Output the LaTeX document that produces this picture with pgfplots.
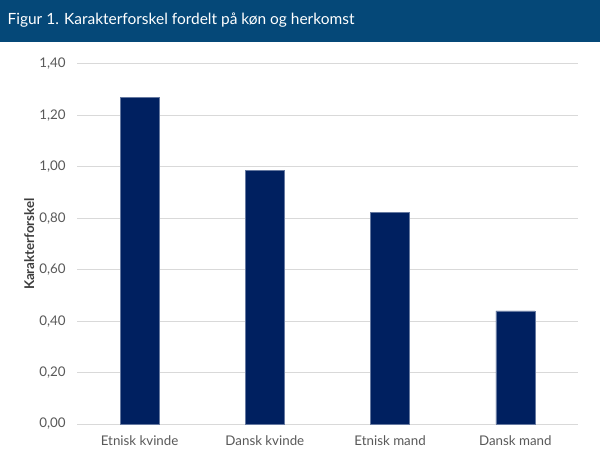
\documentclass[border=0pt]{standalone}
\usepackage{pgfplots}
\pgfplotsset{compat=1.18}
\usepackage{fontspec}
\setmainfont{Lato}
\definecolor{titlebar}{HTML}{054878}
\definecolor{barblue}{HTML}{002060}
\definecolor{txt}{HTML}{595959}
\definecolor{gridc}{HTML}{D9D9D9}
\begin{document}
\begin{tikzpicture}
\path[use as bounding box] (0,0) rectangle (450pt,345.75pt);
\fill[white] (0,0) rectangle (450pt,345.75pt);
\fill[titlebar] (0,314.25pt) rectangle (450pt,345.75pt);
\node[anchor=west,text=white,font=\fontsize{11.6}{13}\selectfont,inner sep=0pt] at (5.5pt,330.5pt) {Figur 1. Karakterforskel fordelt på køn og herkomst};
\begin{axis}[
  at={(57.75pt,27.75pt)}, anchor=south west,
  scale only axis, width=375.75pt, height=270pt,
  ymin=0, ymax=1.4, ytick={0,0.2,...,1.4},
  xmin=-0.5, xmax=3.5,
  xtick={0,1,2,3},
  xticklabels={Etnisk kvinde,Dansk kvinde,Etnisk mand,Dansk mand},
  ybar, bar width=29.25pt,
  axis x line*=bottom, axis y line*=left,
  y axis line style={draw=none},
  x axis line style={draw=gridc, line width=0.75pt},
  ymajorgrids, xmajorgrids=false, grid style={draw=gridc, line width=0.75pt},
  major tick length=0pt,
  y tick label style={/pgf/number format/fixed, /pgf/number format/fixed zerofill, /pgf/number format/precision=2, /pgf/number format/use comma},
  /pgf/number format/assume math mode=true,
  ticklabel style={text=txt, font=\fontsize{10}{11}\selectfont},
  yticklabel style={xshift=-5pt},
  xticklabel style={yshift=-5pt},
  ylabel={\textbf{Karakterforskel}},
  ylabel style={text=txt!70!black, font=\fontsize{10}{11}\selectfont, yshift=-3pt},
  clip=false,
]
\addplot[fill=barblue, draw=barblue!60!white, line width=0.4pt] coordinates {(0,1.271) (1,0.986) (2,0.824) (3,0.44)};
\end{axis}
\end{tikzpicture}
\end{document}
